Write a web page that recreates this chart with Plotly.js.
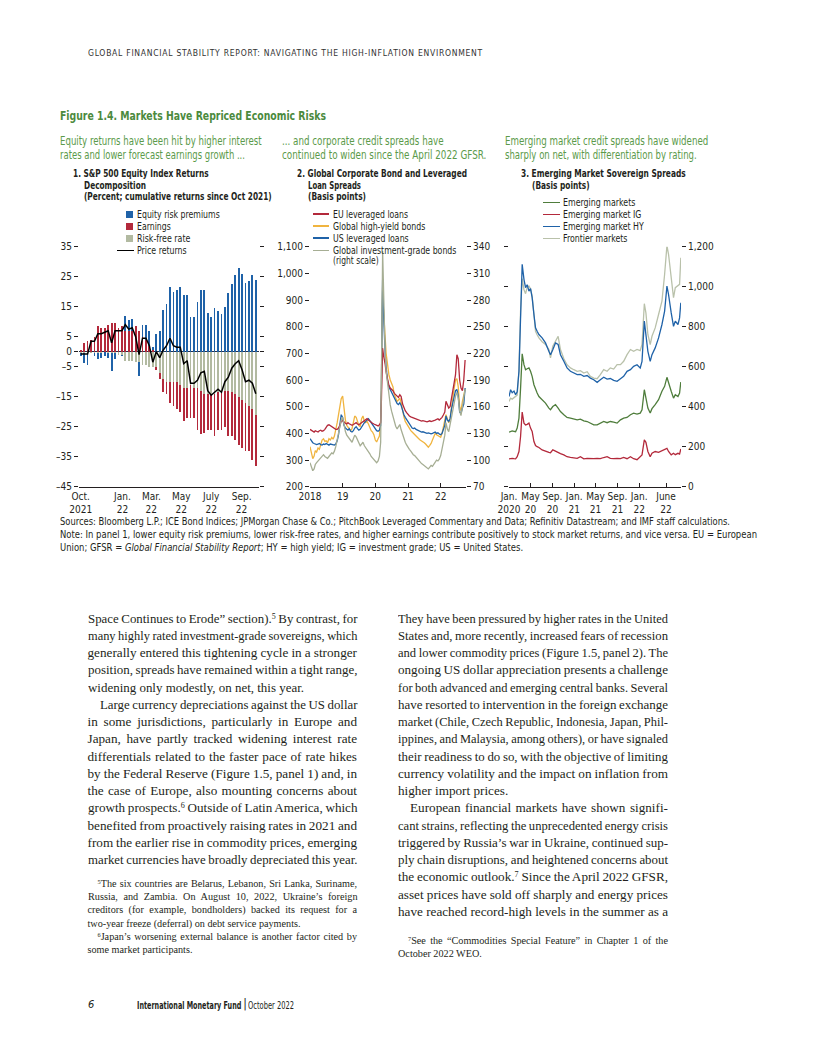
<!DOCTYPE html>
<html><head><meta charset="utf-8">
<script src="https://cdn.plot.ly/plotly-3.0.1.min.js"></script>
<style>
html,body{margin:0;padding:0;background:#fff}
body{width:816px;height:1056px;position:relative;overflow:hidden}
.t{position:absolute;white-space:nowrap;transform-origin:0 50%;line-height:1}
.t sup{font-size:0.62em;vertical-align:0.45em;line-height:0}
.sym{position:absolute}
#plot{position:absolute;left:0;top:0;width:816px;height:580px}
</style></head><body>
<div id="plot"></div>
<script>
// ---------------- DATA ----------------
// Panel 1: S&P 500 returns decomposition (weekly, percent, cumulative since Oct 2021)
const p1Dates = ['2021-10-08','2021-10-15','2021-10-22','2021-10-29','2021-11-05','2021-11-12','2021-11-19','2021-11-26',
 '2021-12-03','2021-12-10','2021-12-17','2021-12-24','2021-12-31','2022-01-07','2022-01-14','2022-01-21','2022-01-28',
 '2022-02-04','2022-02-11','2022-02-18','2022-02-25','2022-03-04','2022-03-11','2022-03-18','2022-03-25',
 '2022-04-01','2022-04-08','2022-04-15','2022-04-22','2022-04-29','2022-05-06','2022-05-13','2022-05-20','2022-05-27',
 '2022-06-03','2022-06-10','2022-06-17','2022-06-24','2022-07-01','2022-07-08','2022-07-15','2022-07-22','2022-07-29',
 '2022-08-05','2022-08-12','2022-08-19','2022-08-26','2022-09-02','2022-09-09','2022-09-16','2022-09-23','2022-09-30'];
const p1RiskFree = [-0.5,-0.5,-0.3,-0.5,-0.5,-0.5,-0.3,-0.2,-0.5,-0.5,-0.5,-1,-1,-3,-3,-3,-3.5,-3.5,-4.5,-4.5,-5,-5,-5,-7,-9,
 -10,-10,-10,-10,-11,-12,-12,-11,-12,-12,-13,-14,-14,-14,-14,-13.5,-13.5,-13,-13,-13.5,-14,-15,-16,-17,-18,-19,-21];
const p1Earnings = [0.7,3,3.5,4,5,8.5,8,8,9,9.5,9.5,8,8.5,7,7,7,8.5,7,5,4,2,0.5,-1,-2,-4.5,-4,-7,-8,-9,-9,-11,-10,-11,-10,
 -14,-14.5,-13,-12,-12,-14,-12.5,-12.5,-12,-15,-14.5,-15.5,-16,-16,-16,-15,-17,-17];
const p1EquityRisk = [-1,-3.3,-4,0,-1,-2,-1.7,-1.3,-1.5,-6,-2,0,-0.5,5,3.5,4,0,-4.5,4,5,5,1,6,7,14,16,21.5,20,20.5,21.5,19,19,
 11.5,11.5,16.5,20.5,20.5,13,11.5,14.5,13.5,12.5,15,19.5,22.5,25.5,28,26,23,23.5,25.5,24];
const p1Price = [-0.8,-0.8,-0.8,3.5,3.5,6,6,6.5,7,3,7,7,7,9,7.5,8,5,-1,4.5,4.5,2,-3.5,0,-2,0.5,2,4.5,2,1.5,1.5,-4,-3,
 -10.5,-10.5,-9.5,-7,-6.5,-13,-14.5,-13.5,-12.5,-13.5,-10,-8.5,-5.5,-4,-3,-6,-10,-9.5,-10.5,-14];
const p1TickDates = ['2021-10-08','2022-01-01','2022-03-01','2022-05-01','2022-07-01','2022-09-01'];
const p1TickText = ['Oct.<br>2021','Jan.<br>22','Mar.<br>22','May<br>22','July<br>22','Sep.<br>22'];
const p1YTicks = [35,25,15,5,0,-5,-15,-25,-35,-45];
const p1YText = ['35','25','15','5','0','\u20135','\u201315','\u201325','\u201335','\u201345'];

// Panel 2: Global corporate bond and leveraged loan spreads (basis points)
const p2Dates = ('2018-01-01 2018-01-16 2018-02-01 2018-02-16 2018-03-01 2018-03-16 2018-04-01 2018-04-16 2018-05-01 2018-05-16 2018-06-01 2018-06-16 ' +
 '2018-07-01 2018-07-16 2018-08-01 2018-08-16 2018-09-01 2018-09-16 2018-10-01 2018-10-16 2018-11-01 2018-11-16 2018-12-01 2018-12-16 ' +
 '2019-01-01 2019-01-16 2019-02-01 2019-02-16 2019-03-01 2019-03-16 2019-04-01 2019-04-16 2019-05-01 2019-05-16 2019-06-01 2019-06-16 ' +
 '2019-07-01 2019-07-16 2019-08-01 2019-08-16 2019-09-01 2019-09-16 2019-10-01 2019-10-16 2019-11-01 2019-11-16 2019-12-01 2019-12-16 ' +
 '2020-01-01 2020-01-16 2020-02-01 2020-02-16 2020-03-01 2020-03-09 2020-03-16 2020-03-23 2020-03-30 2020-04-06 2020-04-13 2020-04-20 ' +
 '2020-05-01 2020-05-16 2020-06-01 2020-06-16 2020-07-01 2020-07-16 2020-08-01 2020-08-16 2020-09-01 2020-09-16 2020-10-01 2020-10-16 ' +
 '2020-11-01 2020-11-16 2020-12-01 2020-12-16 ' +
 '2021-01-01 2021-01-16 2021-02-01 2021-02-16 2021-03-01 2021-03-16 2021-04-01 2021-04-16 2021-05-01 2021-05-16 2021-06-01 2021-06-16 ' +
 '2021-07-01 2021-07-16 2021-08-01 2021-08-16 2021-09-01 2021-09-16 2021-10-01 2021-10-16 2021-11-01 2021-11-16 2021-12-01 2021-12-16 ' +
 '2022-01-01 2022-01-16 2022-02-01 2022-02-16 2022-03-01 2022-03-16 2022-04-01 2022-04-16 2022-05-01 2022-05-16 2022-06-01 2022-06-16 ' +
 '2022-07-01 2022-07-16 2022-08-01 2022-08-16 2022-09-01 2022-09-16 2022-10-01').split(' ');
const p2EULoans = [415,412,408,405,410,408,405,410,412,408,410,415,425,430,432,428,425,420,418,415,415,420,430,445,
 448,442,438,435,440,436,432,430,433,438,440,435,432,436,440,445,448,452,455,450,445,440,438,435,
 432,430,428,432,440,520,650,720,700,690,670,660,630,600,580,570,565,560,550,545,540,535,545,538,510,495,485,478,
 470,465,462,460,458,455,452,450,450,448,446,448,447,445,443,445,447,444,445,448,450,452,455,450,
 455,460,470,480,520,505,495,500,530,560,590,620,695,680,600,570,560,600,675];
const p2HYBonds = [350,330,305,315,335,330,345,340,360,375,380,370,372,365,380,375,385,378,390,410,440,470,500,530,
 540,490,450,430,425,420,410,418,440,465,460,440,430,425,455,465,445,440,445,435,420,410,405,395,
 375,368,380,390,450,560,820,950,880,820,790,760,700,660,620,600,590,575,545,530,520,525,532,515,480,462,445,435,
 425,418,410,405,400,398,390,385,380,375,372,368,365,360,352,348,355,362,375,385,400,395,392,388,
 385,400,425,440,470,455,440,455,505,530,570,600,605,575,500,485,520,545,565];
const p2USLoans = [380,372,365,362,360,358,360,362,358,356,360,358,362,358,356,360,358,355,356,360,372,395,430,470,
 460,430,420,415,412,418,408,405,410,420,425,418,412,415,425,435,440,445,450,455,448,440,430,425,
 415,410,408,412,430,560,820,980,880,780,720,700,650,600,575,565,555,545,530,520,512,508,515,505,480,470,460,452,
 440,432,425,420,418,420,415,412,410,408,405,406,404,402,400,402,400,398,400,402,405,400,402,398,
 395,400,420,430,465,450,445,455,490,515,545,560,565,540,480,475,495,510,570];
const p2IGBonds = [97,92,88,90,95,97,99,100,103,105,106,104,103,102,104,106,108,107,110,115,122,130,138,145,
 148,138,132,128,126,124,122,120,124,128,126,122,118,116,118,120,116,114,112,110,107,104,102,100,
 98,97,99,104,120,170,260,335,300,260,235,220,200,185,170,162,155,150,142,138,135,138,140,134,128,124,120,117,
 114,112,110,107,106,105,103,101,100,98,96,95,94,92,91,90,92,94,93,95,98,100,99,101,
 105,112,120,128,142,135,132,140,152,158,165,172,176,170,155,150,160,170,180];
const p2TickDates = ['2018-01-01','2019-01-01','2020-01-01','2021-01-01','2022-01-01'];
const p2TickText = ['2018','19','20','21','22'];
const p2LeftTicks = [200,300,400,500,600,700,800,900,1000,1100];
const p2LeftText = ['200','300','400','500','600','700','800','900','1,000','1,100'];
const p2RightTicks = [70,100,130,160,190,220,250,280,310,340];

// Panel 3: Emerging market sovereign spreads (basis points)
const p3Dates = ['2020-01-01','2020-01-10','2020-01-19','2020-01-29','2020-02-07','2020-02-16','2020-02-26','2020-03-06','2020-03-15',
 '2020-03-25','2020-04-03','2020-04-12','2020-04-22','2020-05-01','2020-05-10','2020-05-20','2020-05-29','2020-06-07','2020-06-17',
 '2020-07-05','2020-07-24','2020-08-12','2020-08-21','2020-09-03','2020-09-18','2020-10-03','2020-10-16',
 '2020-11-04','2020-11-22','2020-12-11','2020-12-30','2021-01-18','2021-02-05','2021-02-24','2021-03-15','2021-04-02','2021-04-21',
 '2021-05-10','2021-05-28','2021-06-16','2021-07-05','2021-07-23','2021-08-11','2021-08-30','2021-09-18','2021-10-06','2021-10-25',
 '2021-11-13','2021-12-01','2021-12-20','2022-01-07',
 '2022-01-17','2022-01-30','2022-02-08','2022-02-19','2022-03-04','2022-03-14','2022-04-01','2022-04-20','2022-05-09','2022-05-24',
 '2022-06-06','2022-06-15','2022-06-30','2022-07-13','2022-07-23','2022-08-07','2022-08-16','2022-08-23'];
const p3EM = [273,276,279,277,275,293,343,493,664,610,585,590,594,577,552,510,485,468,451,
 435,418,393,385,401,410,393,376,
 360,346,343,338,334,338,329,326,318,309,309,318,326,320,326,323,318,334,343,346,360,368,363,368,
 385,485,443,393,368,390,410,435,477,502,547,518,477,443,460,451,468,523];
const p3EMIG = [139,141,142,140,139,150,176,251,373,318,309,312,318,293,276,226,206,200,196,
 184,176,172,170,184,178,170,165,
 159,150,147,146,142,150,139,142,140,140,142,140,146,150,142,140,142,140,146,140,150,140,135,150,
 159,234,222,176,150,167,176,172,179,184,192,176,159,167,160,167,163,189];
const p3EMHY = [451,485,470,478,460,475,577,828,1112,1037,995,1010,978,990,945,861,794,777,761,
 744,719,677,660,685,719,711,660,
 627,594,577,568,560,562,552,556,543,535,522,535,547,538,541,532,527,540,552,577,585,602,610,594,
 627,828,761,677,627,660,694,744,811,878,1003,961,869,802,828,811,844,920];
const p3Frontier = [426,443,438,445,448,458,580,880,1040,985,965,995,1003,990,953,853,777,760,744,
 725,711,686,644,702,724,752,686,
 640,610,594,585,577,580,568,575,552,543,540,560,585,577,594,588,610,610,627,660,686,677,686,680,
 711,915,869,761,711,752,794,861,928,1062,1205,1162,1060,945,995,1003,1012,1145];
const p3TickDates = ['2020-01-01','2020-05-01','2020-09-01','2021-01-01','2021-05-01','2021-09-01','2022-01-01','2022-06-01'];
const p3TickText = ['Jan.<br>2020','May<br>20','Sep.<br>20','Jan.<br>21','May<br>21','Sep.<br>21','Jan.<br>22','June<br>22'];
const p3YTicks = [0,200,400,600,800,1000,1200];
const p3YText = ['0','200','400','600','800','1,000','1,200'];

// ---------------- STYLE ----------------
const SANS = "'Liberation Sans Narrow','DejaVu Sans Condensed','Arial Narrow',sans-serif";
const SERIF = "'Liberation Serif','DejaVu Serif',serif";
const INK = '#231f20';
const C = {blue:'#1f62a8', red:'#b3293b', gray:'#b2baa1', orange:'#f0b43f', ig:'#a6ae94',
           green:'#4f7d3c', frontier:'#b9c1aa', titleGreen:'#4b8a3d', subGreen:'#5b9a4a'};
const W = 816, H = 580;
const fx = p => p / W, fy = p => 1 - p / H;
const PT = 246.7, PB = 486.7;
const DAY = 86400000;

const tf = {family: SANS, size: 10, color: INK};
const yCommon = {domain:[fy(PB), fy(PT)], showgrid:false, zeroline:false, ticks:'outside', ticklen:4,
  tickcolor:INK, tickwidth:1, tickfont:tf, tickmode:'array', fixedrange:true};
const xCommon = {type:'date', showgrid:false, zeroline:false, showline:true, linecolor:INK, linewidth:1,
  ticks:'inside', ticklen:4, tickcolor:INK, tickfont:tf, tickmode:'array', tickangle:0, fixedrange:true};

const traces = [
  {type:'bar', x:p1Dates, y:p1RiskFree, name:'Risk-free rate', marker:{color:C.gray}, width:3.6*DAY, xaxis:'x', yaxis:'y'},
  {type:'bar', x:p1Dates, y:p1Earnings, name:'Earnings', marker:{color:C.red}, width:3.6*DAY, xaxis:'x', yaxis:'y'},
  {type:'bar', x:p1Dates, y:p1EquityRisk, name:'Equity risk premiums', marker:{color:C.blue}, width:3.6*DAY, xaxis:'x', yaxis:'y'},
  {type:'scatter', mode:'lines', x:p1Dates, y:p1Price, name:'Price returns', line:{color:'#000', width:1.5}, xaxis:'x', yaxis:'y'},

  {type:'scatter', mode:'lines', x:p2Dates, y:p2IGBonds, name:'Global investment-grade bonds (right scale)', line:{color:C.ig, width:1.3}, xaxis:'x2', yaxis:'y3'},
  {type:'scatter', mode:'lines', x:p2Dates, y:p2HYBonds, name:'Global high-yield bonds', line:{color:C.orange, width:1.3}, xaxis:'x2', yaxis:'y2'},
  {type:'scatter', mode:'lines', x:p2Dates, y:p2USLoans, name:'US leveraged loans', line:{color:C.blue, width:1.3}, xaxis:'x2', yaxis:'y2'},
  {type:'scatter', mode:'lines', x:p2Dates, y:p2EULoans, name:'EU leveraged loans', line:{color:C.red, width:1.3}, xaxis:'x2', yaxis:'y2'},

  {type:'scatter', mode:'lines', x:p3Dates, y:p3Frontier, name:'Frontier markets', line:{color:C.frontier, width:1.3}, xaxis:'x3', yaxis:'y4'},
  {type:'scatter', mode:'lines', x:p3Dates, y:p3EMHY, name:'Emerging market HY', line:{color:C.blue, width:1.3}, xaxis:'x3', yaxis:'y4'},
  {type:'scatter', mode:'lines', x:p3Dates, y:p3EM, name:'Emerging markets', line:{color:C.green, width:1.3}, xaxis:'x3', yaxis:'y4'},
  {type:'scatter', mode:'lines', x:p3Dates, y:p3EMIG, name:'Emerging market IG', line:{color:C.red, width:1.3}, xaxis:'x3', yaxis:'y4'}
];

const p1Range = ['2021-10-04 12:00','2022-10-05 12:00'];
const layout = {
  width:W, height:H, margin:{l:0,r:0,t:0,b:0}, showlegend:false,
  paper_bgcolor:'rgba(0,0,0,0)', plot_bgcolor:'rgba(0,0,0,0)',
  font:{family:SANS, size:10, color:INK}, barmode:'relative', bargap:0,
  xaxis: Object.assign({}, xCommon, {domain:[fx(79), fx(258.5)], anchor:'y', range:p1Range,
    tickvals:p1TickDates, ticktext:p1TickText, ticks:''}),
  xaxis4: Object.assign({}, xCommon, {overlaying:'x', anchor:'y', range:p1Range, showline:false,
    tickmode:'linear', tick0:'2021-10-01', dtick:14*DAY, ticks:'inside', ticklen:5, showticklabels:false}),
  yaxis: Object.assign({}, yCommon, {anchor:'x', range:[-45,35], tickvals:p1YTicks, ticktext:p1YText,
    mirror:'ticks', zeroline:true, zerolinecolor:'#25304a', zerolinewidth:1.2}),

  xaxis2: Object.assign({}, xCommon, {domain:[fx(310), fx(466)], anchor:'y2', range:['2018-01-01','2022-10-11'],
    tickvals:p2TickDates, ticktext:p2TickText}),
  yaxis2: Object.assign({}, yCommon, {anchor:'x2', range:[200,1100], tickvals:p2LeftTicks, ticktext:p2LeftText}),
  yaxis3: Object.assign({}, yCommon, {anchor:'x2', overlaying:'y2', side:'right', range:[70,340],
    tickvals:p2RightTicks, ticktext:p2RightTicks.map(String)}),

  xaxis3: Object.assign({}, xCommon, {domain:[fx(509), fx(681)], anchor:'y4', range:['2020-01-01','2022-08-24'],
    tickvals:p3TickDates, ticktext:p3TickText}),
  yaxis4: Object.assign({}, yCommon, {anchor:'x3', side:'right', range:[0,1200], tickvals:p3YTicks, ticktext:p3YText,
    mirror:'ticks'})
};

Plotly.newPlot('plot', traces, layout, {staticPlot:true, displayModeBar:false});

// ---------------- TEXT ----------------
function T(html, x, yc, size, o) {
  o = o || {};
  const d = document.createElement('div');
  d.className = 't';
  d.innerHTML = html;
  d.style.left = x + 'px';
  d.style.top = (yc - 0.52 * size) + 'px';
  d.style.fontSize = size + 'px';
  d.style.fontFamily = o.family || SANS;
  d.style.color = o.color || INK;
  if (o.bold) d.style.fontWeight = 'bold';
  if (o.italic) d.style.fontStyle = 'italic';
  if (o.ls) d.style.letterSpacing = o.ls + 'px';
  document.body.appendChild(d);
  const w0 = d.getBoundingClientRect().width;
  let s = 1;
  if (o.w) s = o.w / w0; else if (o.scale) s = o.scale;
  if (s !== 1) d.style.transform = 'scaleX(' + s + ')';
  d._s = s;
  return d;
}
function block(lines, x0, y0, dy, size, family, width, indent) {
  let last = 1;
  lines.forEach((ln, i) => {
    const x = x0 + (ln.ind ? indent : 0);
    const Wt = width - (ln.ind ? indent : 0);
    const d = T(ln.t, x, y0 + i * dy, size, {family});
    if (ln.last) { d.style.transform = 'scaleX(' + last + ')'; return; }
    const w0 = d.getBoundingClientRect().width;
    const n = (d.textContent.match(/ /g) || []).length || 1;
    let ws = (Wt - w0) / n;
    ws = Math.max(-0.6, Math.min(3, ws));
    d.style.wordSpacing = ws + 'px';
    const w1 = d.getBoundingClientRect().width;
    last = Wt / w1;
    d.style.transform = 'scaleX(' + last + ')';
  });
}
function sq(x, y, w, h, color) {
  const d = document.createElement('div');
  d.className = 'sym';
  Object.assign(d.style, {left:x+'px', top:y+'px', width:w+'px', height:h+'px', background:color});
  document.body.appendChild(d);
}

// header & figure title
T('GLOBAL FINANCIAL STABILITY REPORT: NAVIGATING THE HIGH-INFLATION ENVIRONMENT', 88, 52.5, 9.5, {ls:0.8, w:395, color:'#333'});
T('Figure 1.4. Markets Have Repriced Economic Risks', 60, 115.5, 13, {bold:true, color:C.titleGreen, w:266});

// subtitles
T('Equity returns have been hit by higher interest', 60, 142.3, 11.5, {color:C.subGreen, w:201.7});
T('rates and lower forecast earnings growth ...', 60, 156, 11.5, {color:C.subGreen, w:185});
T('... and corporate credit spreads have', 281.7, 142.3, 11.5, {color:C.subGreen, w:161.6});
T('continued to widen since the April 2022 GFSR.', 281.7, 156, 11.5, {color:C.subGreen, w:204.3});
T('Emerging market credit spreads have widened', 505, 142.3, 11.5, {color:C.subGreen, w:203.3});
T('sharply on net, with differentiation by rating.', 505, 156, 11.5, {color:C.subGreen, w:191.7});

// panel titles
T('1. S&amp;P 500 Equity Index Returns', 72.7, 173.5, 10.5, {bold:true, w:135.6});
T('Decomposition', 84, 185.2, 10.5, {bold:true, w:62});
T('(Percent; cumulative returns since Oct 2021)', 84, 196.9, 10.5, {bold:true, w:187.7});
T('2. Global Corporate Bond and Leveraged', 296.7, 173.5, 10.5, {bold:true, w:170});
T('Loan Spreads', 307.7, 185.2, 10.5, {bold:true, w:53});
T('(Basis points)', 307.7, 196.9, 10.5, {bold:true, w:58});
T('3. Emerging Market Sovereign Spreads', 521, 173.5, 10.5, {bold:true, w:164.7});
T('(Basis points)', 531.7, 185.2, 10.5, {bold:true, w:57.6});

// legends
const lg1 = [['Equity risk premiums', C.blue, 82.7], ['Earnings', C.red, 33.7], ['Risk-free rate', C.gray, 53.4]];
lg1.forEach((e, i) => { const y = 214 + i * 12.1; sq(125.5, y - 3.5, 7, 7, e[1]); T(e[0], 137.3, y, 10.3, {w:e[2]}); });
sq(116.7, 250.3 - 0.75, 17.3, 1.5, '#000'); T('Price returns', 137.3, 250.3, 10.3, {w:49.7});

const lg2 = [['EU leveraged loans', C.red, 75], ['Global high-yield bonds', C.orange, 92.4], ['US leveraged loans', C.blue, 75.7],
             ['Global investment-grade bonds', C.ig, 123.4]];
lg2.forEach((e, i) => { const y = 214 + i * 12.1; sq(313.3, y - 0.75, 16, 1.5, e[1]); T(e[0], 333.3, y, 10.3, {w:e[2]}); });
T('(right scale)', 333.3, 260.5, 10.3, {w:45.7});

const lg3 = [['Emerging markets', C.green, 72.4], ['Emerging market IG', C.red, 78.4], ['Emerging market HY', C.blue, 80.7],
             ['Frontier markets', C.frontier, 64.4]];
lg3.forEach((e, i) => { const y = 202.3 + i * 12; sq(543.3, y - 0.75, 16.7, 1.5, e[1]); T(e[0], 563.3, y, 10.3, {w:e[2]}); });

// sources / note
T('Sources: Bloomberg L.P.; ICE Bond Indices; JPMorgan Chase &amp; Co.; PitchBook Leveraged Commentary and Data; Refinitiv Datastream; and IMF staff calculations.', 60, 522, 9.6, {w:670});
const s2 = T('Note: In panel 1, lower equity risk premiums, lower risk-free rates, and higher earnings contribute positively to stock market returns, and vice versa. EU = European', 60, 535, 9.6, {w:697});
T('Union; GFSR = <i>Global Financial Stability Report</i>; HY = high yield; IG = investment grade; US = United States.', 60, 547.5, 9.6, {scale:s2._s});

// body text
const leftCol = [
 {t:'Space Continues to Erode\u201d section).<sup>5</sup> By contrast, for'},
 {t:'many highly rated investment-grade sovereigns, which'},
 {t:'generally entered this tightening cycle in a stronger'},
 {t:'position, spreads have remained within a tight range,'},
 {t:'widening only modestly, on net, this year.', last:true},
 {t:'Large currency depreciations against the US dollar', ind:true},
 {t:'in some jurisdictions, particularly in Europe and'},
 {t:'Japan, have partly tracked widening interest rate'},
 {t:'differentials related to the faster pace of rate hikes'},
 {t:'by the Federal Reserve (Figure 1.5, panel 1) and, in'},
 {t:'the case of Europe, also mounting concerns about'},
 {t:'growth prospects.<sup>6</sup> Outside of Latin America, which'},
 {t:'benefited from proactively raising rates in 2021 and'},
 {t:'from the earlier rise in commodity prices, emerging'},
 {t:'market currencies have broadly depreciated this year.'}
];
const rightCol = [
 {t:'They have been pressured by higher rates in the United'},
 {t:'States and, more recently, increased fears of recession'},
 {t:'and lower commodity prices (Figure 1.5, panel 2). The'},
 {t:'ongoing US dollar appreciation presents a challenge'},
 {t:'for both advanced and emerging central banks. Several'},
 {t:'have resorted to intervention in the foreign exchange'},
 {t:'market (Chile, Czech Republic, Indonesia, Japan, Phil-'},
 {t:'ippines, and Malaysia, among others), or have signaled'},
 {t:'their readiness to do so, with the objective of limiting'},
 {t:'currency volatility and the impact on inflation from'},
 {t:'higher import prices.', last:true},
 {t:'European financial markets have shown signifi-', ind:true},
 {t:'cant strains, reflecting the unprecedented energy crisis'},
 {t:'triggered by Russia\u2019s war in Ukraine, continued sup-'},
 {t:'ply chain disruptions, and heightened concerns about'},
 {t:'the economic outlook.<sup>7</sup> Since the April 2022 GFSR,'},
 {t:'asset prices have sold off sharply and energy prices'},
 {t:'have reached record-high levels in the summer as a'}
];
block(leftCol, 87.5, 618.5, 17.25, 13.2, SERIF, 269.5, 12);
block(rightCol, 398, 618.5, 17.25, 13.2, SERIF, 270, 12);

// footnotes
const fnLeft = [
 {t:'<sup>5</sup>The six countries are Belarus, Lebanon, Sri Lanka, Suriname,', ind:true},
 {t:'Russia, and Zambia. On August 10, 2022, Ukraine\u2019s foreign'},
 {t:'creditors (for example, bondholders) backed its request for a'},
 {t:'two-year freeze (deferral) on debt service payments.', last:true},
 {t:'<sup>6</sup>Japan\u2019s worsening external balance is another factor cited by', ind:true},
 {t:'some market participants.', last:true}
];
block(fnLeft, 87.5, 884, 13.3, 10.2, SERIF, 269.5, 10);
const fnRight = [
 {t:'<sup>7</sup>See the \u201cCommodities Special Feature\u201d in Chapter 1 of the', ind:true},
 {t:'October 2022 WEO.', last:true}
];
block(fnRight, 398, 941, 13.3, 10.2, SERIF, 270, 10);

// footer
T('6', 88, 1005, 11, {italic:true});
T('International Monetary Fund', 137.3, 1005, 10.5, {bold:true, w:104.4});
T('|', 243.3, 1004.5, 12, {});
T('October 2022', 248.3, 1005, 10.5, {w:46});
</script>
</body></html>
